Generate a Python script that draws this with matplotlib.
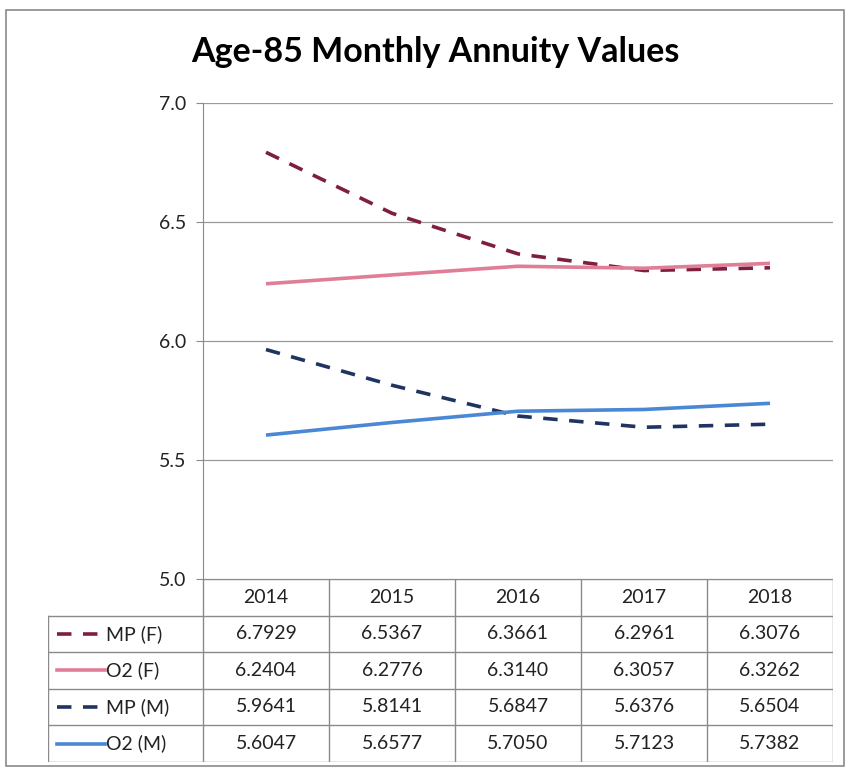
import matplotlib
matplotlib.use("Agg")
import matplotlib.pyplot as plt
from matplotlib.patches import Rectangle
from matplotlib.lines import Line2D

years = ["2014", "2015", "2016", "2017", "2018"]
series_names = ["MP (F)", "O2 (F)", "MP (M)", "O2 (M)"]
mp_f = [6.7929, 6.5367, 6.3661, 6.2961, 6.3076]
o2_f = [6.2404, 6.2776, 6.3140, 6.3057, 6.3262]
mp_m = [5.9641, 5.8141, 5.6847, 5.6376, 5.6504]
o2_m = [5.6047, 5.6577, 5.7050, 5.7123, 5.7382]
y_ticks = [5.0, 5.5, 6.0, 6.5, 7.0]
title = "Age-85 Monthly Annuity Values"

series_vals = [mp_f, o2_f, mp_m, o2_m]
colors = ["#7E1F3F", "#E07E97", "#1F3461", "#4A88D6"]
styles = [(0, (4, 3.2)), "-", (0, (4, 3.2)), "-"]

plt.rcParams['font.family'] = ['Lato', 'DejaVu Sans']

W, H = 850, 771
fig = plt.figure(figsize=(W / 100, H / 100), dpi=100)

def px_rect(l, t, r, b):
    return [l / W, 1 - b / H, (r - l) / W, (b - t) / H]

# outer frame
fig.patches.append(Rectangle((6 / W, 1 - 766 / H), 838 / W, 756 / H, transform=fig.transFigure,
                             fill=False, edgecolor="#8a8a8a", linewidth=1.2))

fig.text(435 / W, 1 - 52 / H, title, ha="center", va="center", fontsize=24.5,
         fontweight="bold", color="black")

left, right, top, bottom = 203, 833, 103, 579
ax = fig.add_axes(px_rect(left, top, right, bottom))
x = list(range(len(years)))
for vals, c, ls in zip(series_vals, colors, styles):
    ax.plot(x, vals, color=c, linestyle=ls, linewidth=2.6, solid_capstyle="butt", dash_capstyle="butt")
ax.set_xlim(-0.5, len(years) - 0.5)
ax.set_ylim(5.0, 7.0)
ax.set_yticks(y_ticks)
ax.set_yticklabels([f"{v:.1f}" for v in y_ticks], fontsize=14, color="#222222")
ax.set_xticks([])
for s in ["top", "right", "bottom"]:
    ax.spines[s].set_visible(False)
ax.spines["left"].set_color("#8a8a8a")
ax.tick_params(axis="y", length=5, color="#8a8a8a", pad=7)
ax.yaxis.grid(True, color="#9a9a9a", linewidth=0.9)
ax.set_axisbelow(True)
ax.patch.set_alpha(0)

# data table
tl, tr, tt, tb = 48, 833, 579, 762
tax = fig.add_axes(px_rect(tl, tt, tr, tb))
tax.set_xlim(tl, tr)
tax.set_ylim(tb, tt)
tax.axis("off")
col_w = (right - left) / len(years)
row_tops = [579, 615.5, 652, 688.5, 725, 762]
gc = "#8a8a8a"
lw = 1.0
tax.plot([left, right], [579, 579], color=gc, lw=lw)
for yy in row_tops[1:]:
    tax.plot([tl, right], [yy, yy], color=gc, lw=lw)
for i in range(len(years) + 1):
    xx = left + i * col_w
    tax.plot([xx, xx], [579, 762], color=gc, lw=lw)
tax.plot([tl, tl], [615.5, 762], color=gc, lw=lw)

fs = 14
for i, yr in enumerate(years):
    tax.text(left + (i + 0.5) * col_w, (row_tops[0] + row_tops[1]) / 2, yr,
             ha="center", va="center", fontsize=fs, color="#222222")
for r, (name, vals, c, ls) in enumerate(zip(series_names, series_vals, colors, styles)):
    yc = (row_tops[r + 1] + row_tops[r + 2]) / 2
    tax.add_line(Line2D([57, 105], [yc, yc], color=c, linestyle=ls, linewidth=2.6))
    tax.text(106, yc, name, ha="left", va="center", fontsize=fs, color="#222222")
    for i, v in enumerate(vals):
        tax.text(left + (i + 0.5) * col_w, yc, f"{v:.4f}", ha="center", va="center",
                 fontsize=fs, color="#222222")

fig.savefig("out.png", dpi=100)
